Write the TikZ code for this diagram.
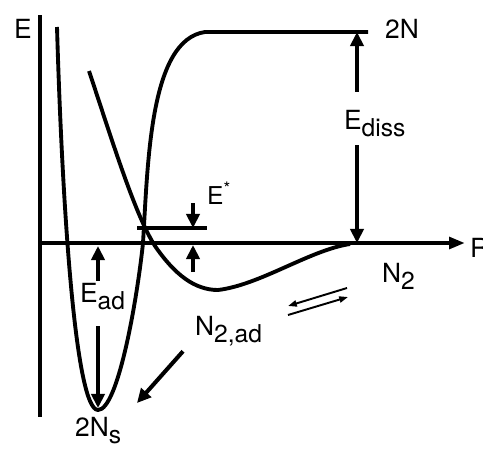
\documentclass[tikz,border=0pt]{standalone}
\usepackage{fontspec}
\setmainfont{TeX Gyre Heros}
\usetikzlibrary{arrows.meta, positioning, calc}

\newcommand{\lowsub}[1]{\raisebox{-4.3pt}{\fontsize{14}{16}\selectfont #1}}

\tikzset{
  axis/.style={line width=2.4pt},
  curve/.style={line width=2.2pt, line join=round},
  thinline/.style={line width=1.9pt},
  tip/.style={line width=2.3pt, -{Triangle[length=8pt,width=7.5pt]}},
  smalltip/.style={line width=1.1pt, -{Triangle[length=5pt,width=3.5pt]}},
  lbl/.style={font=\fontsize{15}{17}\selectfont, inner sep=1pt, anchor=base west}
}

\begin{document}
\begin{tikzpicture}[x=0.2mm, y=-0.2mm]
  \useasboundingbox (0,0) rectangle (483,448);

  % axes
  \coordinate (origin) at (40,243);
  \coordinate (eTop) at (40,15);
  \coordinate (eBot) at (40,417);
  \coordinate (rEnd) at (465,243);
  \draw[axis] (eTop) -- (eBot);
  \draw[axis, -{Triangle[length=9pt,width=6.5pt]}] (origin) -- (rEnd);
  \node[lbl] (eLbl) at (12,38) {E};
  \node[lbl] (rLbl) at (468,257) {R};

  % chemisorption well (2N_s -> 2N)
  \draw[curve] (57,27) .. controls (62,200) and (75,410) .. (98,410)
    .. controls (118,410) and (137,300) .. (143,243)
    .. controls (148,160) and (150,40) .. (205,32) -- (368,32);

  % physisorption well (N_2,ad -> N_2)
  \draw[curve] (89,71) .. controls (112,140) and (135,215) .. (155,246)
    .. controls (175,275) and (195,290) .. (218,290)
    .. controls (260,285) and (310,250) .. (350,244);

  % dissociation energy
  \coordinate (dissTop) at (357,32);
  \coordinate (dissBot) at (357,243);
  \node[lbl] (twoN) at (383,38) {2N};
  \node[lbl] (eDiss) at (342,129) {E\lowsub{diss}};
  \draw[tip] ($(eDiss.north -| dissTop)+(0,-16)$) -- (dissTop);
  \draw[tip] ($(eDiss.south -| dissBot)+(0,6)$) -- (dissBot);

  % activation barrier
  \coordinate (crossing) at (137,228);
  \coordinate (starEnd) at (207,228);
  \coordinate (starTop) at (193,228);
  \coordinate (starBot) at (193,245);
  \draw[thinline] (crossing) -- (starEnd);
  \node[lbl, font=\fontsize{14}{16}\selectfont] (eStar) at (205,204) {E\textsuperscript{*}};
  \draw[tip] (193,203) -- (starTop);
  \draw[tip] (193,272) -- (starBot);

  % adsorption energy
  \coordinate (adTop) at (98,246);
  \coordinate (adBot) at (98,408);
  \node[lbl] (eAd) at (78,302) {E\lowsub{ad}};
  \draw[tip] (eAd.north -| adTop) -- (adTop);
  \draw[tip] ($(eAd.south -| adBot)+(0,14)$) -- (adBot);

  % states
  \node[lbl] (nTwo) at (380,282) {N\lowsub{2}};
  \node[lbl] (nTwoAd) at (193,335) {N\lowsub{2,ad}};
  \node[lbl] (twoNs) at (73,436) {2N\lowsub{s}};
  \draw[tip] (nTwoAd.south west) ++(-10,3) coordinate (adStart) -- (137,403);

  % equilibrium
  \draw[smalltip] (347,288) -- (288,306);
  \draw[smalltip] (288,315) -- (348,297);
\end{tikzpicture}
\end{document}
